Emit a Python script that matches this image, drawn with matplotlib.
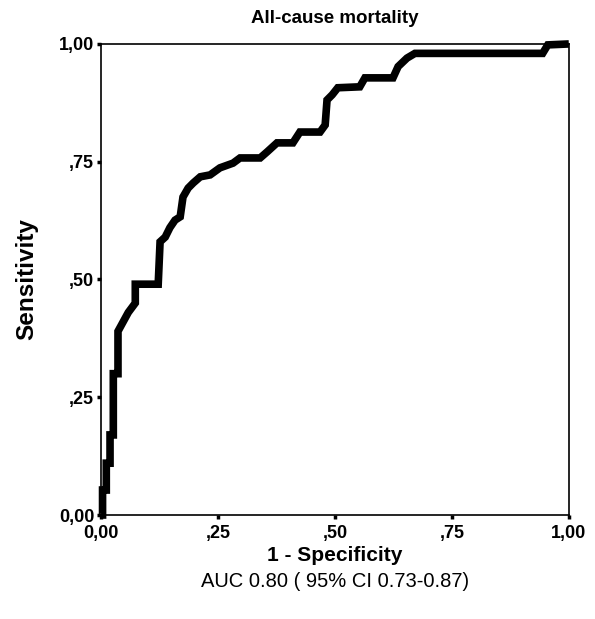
import matplotlib.pyplot as plt

plt.rcParams['font.family'] = ['Liberation Sans', 'DejaVu Sans']

# ROC curve (1 - specificity, sensitivity)
fpr = [0.0, 0.003, 0.003, 0.011, 0.011, 0.019, 0.019, 0.026, 0.026, 0.036,
       0.036, 0.047, 0.058, 0.073, 0.073, 0.122, 0.126, 0.137, 0.147, 0.158,
       0.169, 0.175, 0.186, 0.197, 0.212, 0.233, 0.254, 0.282, 0.297, 0.340,
       0.355, 0.376, 0.410, 0.425, 0.468, 0.479, 0.483, 0.494, 0.506, 0.553,
       0.564, 0.624, 0.635, 0.654, 0.671, 0.944, 0.955, 1.0]
tpr = [0.0, 0.0, 0.053, 0.053, 0.110, 0.110, 0.170, 0.170, 0.300, 0.300,
       0.390, 0.410, 0.430, 0.450, 0.490, 0.490, 0.580, 0.590, 0.610, 0.626,
       0.633, 0.675, 0.694, 0.705, 0.718, 0.722, 0.737, 0.747, 0.758, 0.758,
       0.771, 0.790, 0.790, 0.813, 0.813, 0.828, 0.881, 0.892, 0.907, 0.909,
       0.928, 0.928, 0.952, 0.970, 0.980, 0.980, 0.998, 1.0]

ticks = [0.0, 0.25, 0.5, 0.75, 1.0]
tick_labels = ['0,00', ',25', ',50', ',75', '1,00']

fig = plt.figure(figsize=(5.95, 6.19), dpi=100)
ax = fig.add_axes([0.170, 0.168, 0.786, 0.761])

ax.plot(fpr, tpr, color='black', linewidth=5.5, solid_joinstyle='miter',
        solid_capstyle='butt', clip_on=False)

ax.set_xlim(0, 1)
ax.set_ylim(0, 1)
ax.set_xticks(ticks)
ax.set_xticklabels(tick_labels, fontweight='bold', fontsize=13)
ax.set_yticks(ticks)
ax.set_yticklabels(tick_labels, fontweight='bold', fontsize=13)
ax.tick_params(axis='x', length=3, width=2.5, pad=4)
ax.tick_params(axis='y', length=3, width=2.5, pad=2)

for s in ax.spines.values():
    s.set_linewidth(1.2)

ax.set_title('All-cause mortality', fontweight='bold', fontsize=13.5, pad=15)
ax.set_xlabel('1 - Specificity', fontweight='bold', fontsize=15, labelpad=3)
ax.set_ylabel('Sensitivity', fontweight='bold', fontsize=17.5, labelpad=15)

fig.text(0.563, 0.060, 'AUC 0.80 ( 95% CI 0.73-0.87)', ha='center',
         va='center', fontsize=14.5)

plt.savefig('out.png', dpi=100)
